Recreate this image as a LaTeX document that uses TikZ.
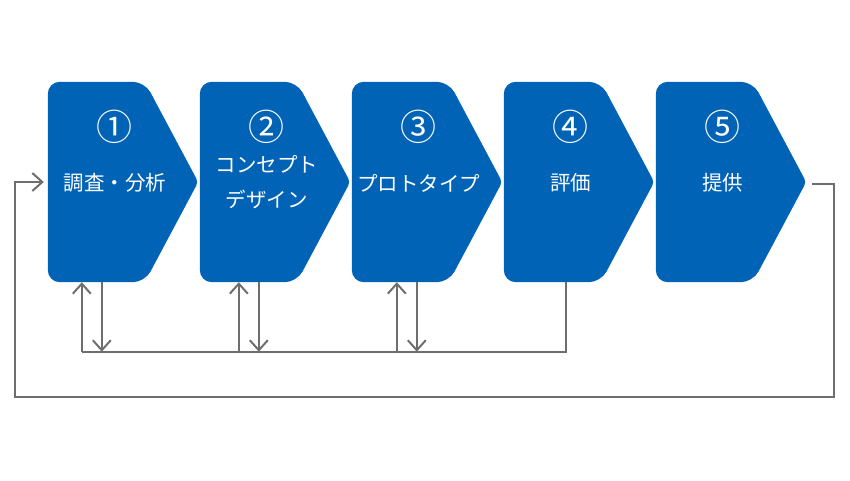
\documentclass[tikz,border=0pt]{standalone}
\usepackage{fontspec}
\newfontfamily\jp{Noto Sans CJK JP}
\usetikzlibrary{arrows.meta,calc}
\definecolor{boxblue}{RGB}{0,99,182}
\definecolor{linegray}{RGB}{110,110,110}
\newcommand\chevbox[1]{%
  \fill[boxblue] ($(#1.south west)+(0,100)$) [rounded corners=12pt] -- (#1.north west) -- ($(#1.north west)+(97,0)$) [rounded corners=4pt] -- (#1.east) [rounded corners=12pt] -- ($(#1.south west)+(97,0)$) -- (#1.south west) -- cycle;}
\begin{document}
\begin{tikzpicture}[x=1pt,y=1pt,
  frame/.style={minimum width=150pt,minimum height=200pt,inner sep=0pt,draw=none},
  num/.style={text=white,inner sep=0pt,font=\jp\fontsize{36}{36}\selectfont},
  lbl/.style={text=white,inner sep=0pt,align=center,font=\jp\fontsize{20.5}{35}\selectfont},
  conn/.style={draw=linegray,line width=2pt},
  arr/.style={conn,-{Straight Barb[length=10pt,width=18pt,line width=2pt]}}]
\useasboundingbox (0,0) rectangle (850,-480);
\node[frame] (b1) at (123,-182) {};
\node[frame] (b2) at (275,-182) {};
\node[frame] (b3) at (427,-182) {};
\node[frame] (b4) at (579,-182) {};
\node[frame] (b5) at (731,-182) {};
\chevbox{b1}\chevbox{b2}\chevbox{b3}\chevbox{b4}\chevbox{b5}
\foreach \b/\n in {b1/①,b2/②,b3/③,b4/④,b5/⑤}{
  \node[num] (\b n) at ($(\b.west)+(67,55)$) {\n};
}
\node[lbl] (t1) at ($(b1.west)+(67,-1)$) {調査・分析};
\node[lbl] (t2) at ($(b2.west)+(67,-0.5)$) {コンセプト\\デザイン};
\node[lbl] (t3) at ($(b3.west)+(67,-1)$) {プロトタイプ};
\node[lbl] (t4) at ($(b4.west)+(67,-1)$) {評価};
\node[lbl] (t5) at ($(b5.west)+(67,-1)$) {提供};
% outer feedback loop
\coordinate (os) at ($(b5.east)+(6,-2)$);
\coordinate (oe) at ($(b1.west)+(-4,0)$);
\draw[arr] (os) -- (834,-184) -- (834,-397) -- (15,-397) -- (15,-182) -- (oe);
% lower feedback
\coordinate (f4) at ($(b4.south west)+(62,0)$);
\coordinate (fb) at ($(b1.south west)+(34,-69.5)$);
\draw[conn] (f4) -- ++(0,-69.5) -- (fb);
\foreach \b/\u/\d in {b1/34/54,b2/39/59,b3/45/65}{
  \draw[arr] ($(\b.south west)+(\u,-69.5)$) -- ($(\b.south west)+(\u,0)$);
  \draw[arr] ($(\b.south west)+(\d,0)$) -- ($(\b.south west)+(\d,-69.5)$);
}
\end{tikzpicture}
\end{document}
